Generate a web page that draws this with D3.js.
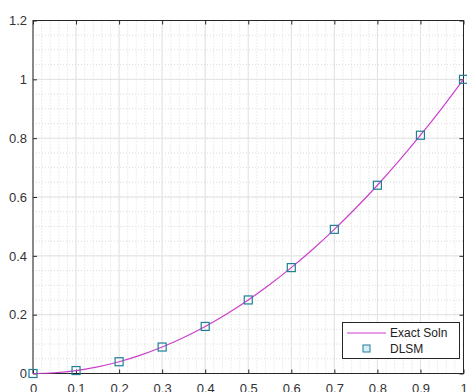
<!DOCTYPE html>
<html>
<head>
<meta charset="utf-8">
<script src="https://cdn.jsdelivr.net/npm/d3@7"></script>
<style>
  body { margin: 0; background: #fff; }
  text { font-family: "Liberation Sans", Arial, sans-serif; }
</style>
</head>
<body>
<svg id="chart"></svg>
<script>
// exact solution curve
let exactX = [0, 0.05, 0.1, 0.15, 0.2, 0.25, 0.3, 0.35, 0.4, 0.45, 0.5, 0.55, 0.6, 0.65, 0.7, 0.75, 0.8, 0.85, 0.9, 0.95, 1]
let exactY = [0, 0.0025, 0.01, 0.0225, 0.04, 0.0625, 0.09, 0.1225, 0.16, 0.2025, 0.25, 0.3025, 0.36, 0.4225, 0.49, 0.5625, 0.64, 0.7225, 0.81, 0.9025, 1]

// DLSM markers
let dlsmX = [0, 0.1, 0.2, 0.3, 0.4, 0.5, 0.6, 0.7, 0.8, 0.9, 1]
let dlsmY = [0, 0.01, 0.04, 0.09, 0.16, 0.25, 0.36, 0.49, 0.64, 0.81, 1]

let xTicks = [0, 0.1, 0.2, 0.3, 0.4, 0.5, 0.6, 0.7, 0.8, 0.9, 1]
let yTicks = [0, 0.2, 0.4, 0.6, 0.8, 1, 1.2]
let legendNames = ["Exact Soln", "DLSM"]

const w = 467, h = 392
const lineColor = "#cc3fcc"
const markColor = "#1f7f98"

let svg = d3.select("#chart").attr("width", w).attr("height", h)

let x = d3.scaleLinear().domain([0, 1]).range([33, 463.5])
let y = d3.scaleLinear().domain([0, 1.2]).range([373.5, 20.5])

// minor grid
let minorX = d3.range(0, 1.0001, 0.02)
let minorY = d3.range(0, 1.2001, 0.05)
let grid = svg.append("g")
grid.selectAll(".mx").data(minorX).enter().append("line")
    .attr("x1", d => x(d)).attr("x2", d => x(d))
    .attr("y1", y(0)).attr("y2", y(1.2))
    .attr("stroke", "#dcdcdc").attr("stroke-dasharray", "1,2")
grid.selectAll(".my").data(minorY).enter().append("line")
    .attr("y1", d => y(d)).attr("y2", d => y(d))
    .attr("x1", x(0)).attr("x2", x(1))
    .attr("stroke", "#dcdcdc").attr("stroke-dasharray", "1,2")

// major grid
grid.selectAll(".gx").data(xTicks).enter().append("line")
    .attr("x1", d => x(d)).attr("x2", d => x(d))
    .attr("y1", y(0)).attr("y2", y(1.2))
    .attr("stroke", "#e3e3e3")
grid.selectAll(".gy").data(yTicks).enter().append("line")
    .attr("y1", d => y(d)).attr("y2", d => y(d))
    .attr("x1", x(0)).attr("x2", x(1))
    .attr("stroke", "#e3e3e3")

// axes, ticks pointing inward
function styleAxis(g) {
    g.select(".domain").remove()
    g.selectAll(".tick line").attr("stroke", "#262626")
    g.selectAll(".tick text").attr("fill", "#333").style("font-size", "13px")
}
svg.append("g").attr("transform", "translate(0," + y(0) + ")")
    .call(d3.axisBottom(x).tickValues(xTicks).tickSize(-4).tickPadding(10).tickFormat(d3.format("")))
    .call(styleAxis)
svg.append("g").attr("transform", "translate(" + x(0) + ",0)")
    .call(d3.axisLeft(y).tickValues(yTicks).tickSize(-4).tickPadding(6).tickFormat(d3.format("")))
    .call(styleAxis)
svg.append("g").attr("transform", "translate(0," + y(1.2) + ")")
    .call(d3.axisTop(x).tickValues(xTicks).tickSize(-4).tickFormat(""))
    .call(styleAxis)
svg.append("g").attr("transform", "translate(" + x(1) + ",0)")
    .call(d3.axisRight(y).tickValues(yTicks).tickSize(-4).tickFormat(""))
    .call(styleAxis)

svg.append("rect")
    .attr("x", x(0)).attr("y", y(1.2))
    .attr("width", x(1) - x(0)).attr("height", y(0) - y(1.2))
    .attr("fill", "none").attr("stroke", "#262626")

// exact solution line
let line = d3.line().x(d => x(d[0])).y(d => y(d[1])).curve(d3.curveMonotoneX)
svg.append("path")
    .datum(exactX.map((v, i) => [v, exactY[i]]))
    .attr("d", line)
    .attr("fill", "none").attr("stroke", lineColor).attr("stroke-width", 1.2)

// DLSM squares
svg.selectAll(".mk").data(dlsmX.map((v, i) => [v, dlsmY[i]])).enter().append("rect")
    .attr("x", d => x(d[0]) - 4).attr("y", d => y(d[1]) - 4)
    .attr("width", 8).attr("height", 8)
    .attr("fill", "none").attr("stroke", markColor).attr("stroke-width", 1.2)

// legend
let lg = svg.append("g")
lg.append("rect").attr("x", 342.5).attr("y", 322.5).attr("width", 117).attr("height", 36)
    .attr("fill", "#fff").attr("stroke", "#262626")
lg.append("line").attr("x1", 347).attr("x2", 386).attr("y1", 333).attr("y2", 333)
    .attr("stroke", lineColor).attr("stroke-width", 1.2)
lg.append("rect").attr("x", 363).attr("y", 345).attr("width", 7).attr("height", 7)
    .attr("fill", "#d8eef4").attr("stroke", markColor)
lg.selectAll(".lt").data(legendNames).enter().append("text")
    .attr("x", 390).attr("y", (d, i) => 337 + i * 16)
    .attr("fill", "#222").style("font-size", "12px")
    .text(d => d)
</script>
</body>
</html>
